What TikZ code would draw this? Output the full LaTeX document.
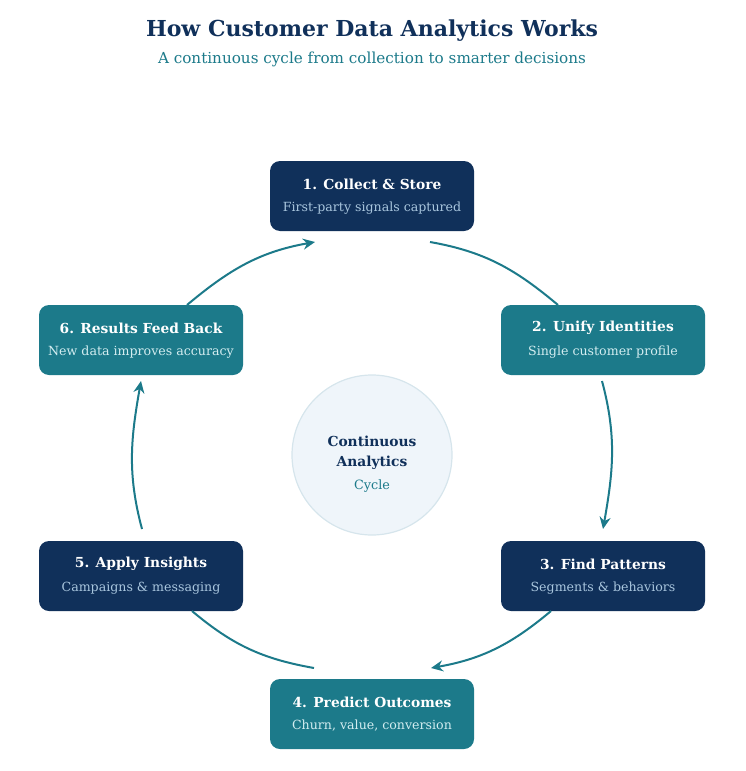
\documentclass[tikz,border=0pt]{standalone}
\usepackage{fontspec}
\setmainfont{DejaVu Serif}
\usetikzlibrary{arrows.meta,calc}
\definecolor{navy}{HTML}{10305A}
\definecolor{teal}{HTML}{1C7A8A}
\definecolor{subn}{HTML}{A9C6DE}
\definecolor{subt}{HTML}{D3EDF0}
\definecolor{cfill}{HTML}{EFF5FA}
\definecolor{cline}{HTML}{D6E5EC}
\newcommand\mybox[6]{%
 \node[#1] (#2) at (#3) {};
 \node[ttl] (#2t) at ($(#2)+(0,-12)$) {#4};
 \node[text=#6,font=\fontsize{12.6}{14}\selectfont] (#2s) at ($(#2)+(0,12)$) {#5};}
\begin{document}
\begin{tikzpicture}[x=1pt,y=-1pt,
 box/.style={rounded corners=10pt,minimum width=204pt,minimum height=70pt,inner sep=0pt},
 nb/.style={box,fill=navy},tb/.style={box,fill=teal},
 ttl/.style={text=white,font=\bfseries\fontsize{13.8}{16}\selectfont},
 arc/.style={draw=teal,line width=2pt},
 ar/.style={arc,-{Stealth[length=12pt,width=11pt]}}]
\useasboundingbox (0,0) rectangle (745,771);
\node[font=\bfseries\fontsize{22}{25}\selectfont,text=navy] (title) at (372,31) {How Customer Data Analytics Works};
\node[font=\fontsize{15.2}{18}\selectfont,text=teal] (sub) at (372,59) {A continuous cycle from collection to smarter decisions};
\mybox{nb}{b1}{372,196}{1. Collect \& Store}{First-party signals captured}{subn}
\mybox{tb}{b2}{603,340}{2. Unify Identities}{Single customer profile}{subt}
\mybox{nb}{b3}{603,576}{3. Find Patterns}{Segments \& behaviors}{subn}
\mybox{tb}{b4}{372,714}{4. Predict Outcomes}{Churn, value, conversion}{subt}
\mybox{nb}{b5}{141,576}{5. Apply Insights}{Campaigns \& messaging}{subn}
\mybox{tb}{b6}{141,340}{6. Results Feed Back}{New data improves accuracy}{subt}
\node[circle,minimum size=160pt,fill=cfill,draw=cline,line width=1.2pt] (c) at (372,455) {};
\node[text=navy,font=\bfseries\fontsize{13.8}{16}\selectfont] (c1) at (372,441) {Continuous};
\node[text=navy,font=\bfseries\fontsize{13.8}{16}\selectfont] (c2) at (372,463) {Analytics};
\node[text=teal,font=\fontsize{12.8}{15}\selectfont] (c3) at (372,486) {Cycle};
\coordinate (p1a) at (430,242); \coordinate (p1b) at (558,305);
\coordinate (p2a) at (602,381); \coordinate (p2b) at (603,529);
\coordinate (p3a) at (551,611); \coordinate (p3b) at (431,668);
\coordinate (p4a) at (314,668); \coordinate (p4b) at (192,611);
\coordinate (p5a) at (142,529); \coordinate (p5b) at (141,381);
\coordinate (p6a) at (187,305); \coordinate (p6b) at (315,242);
\draw[arc] (p1a) to[out=-10,in=140] (p1b);
\draw[ar] (p2a) to[out=-75,in=80] (p2b);
\draw[ar] (p3a) to[out=-140,in=10] (p3b);
\draw[arc] (p4a) to[out=170,in=-40] (p4b);
\draw[ar] (p5a) to[out=105,in=-100] (p5b);
\draw[ar] (p6a) to[out=40,in=-170] (p6b);
\end{tikzpicture}
\end{document}
